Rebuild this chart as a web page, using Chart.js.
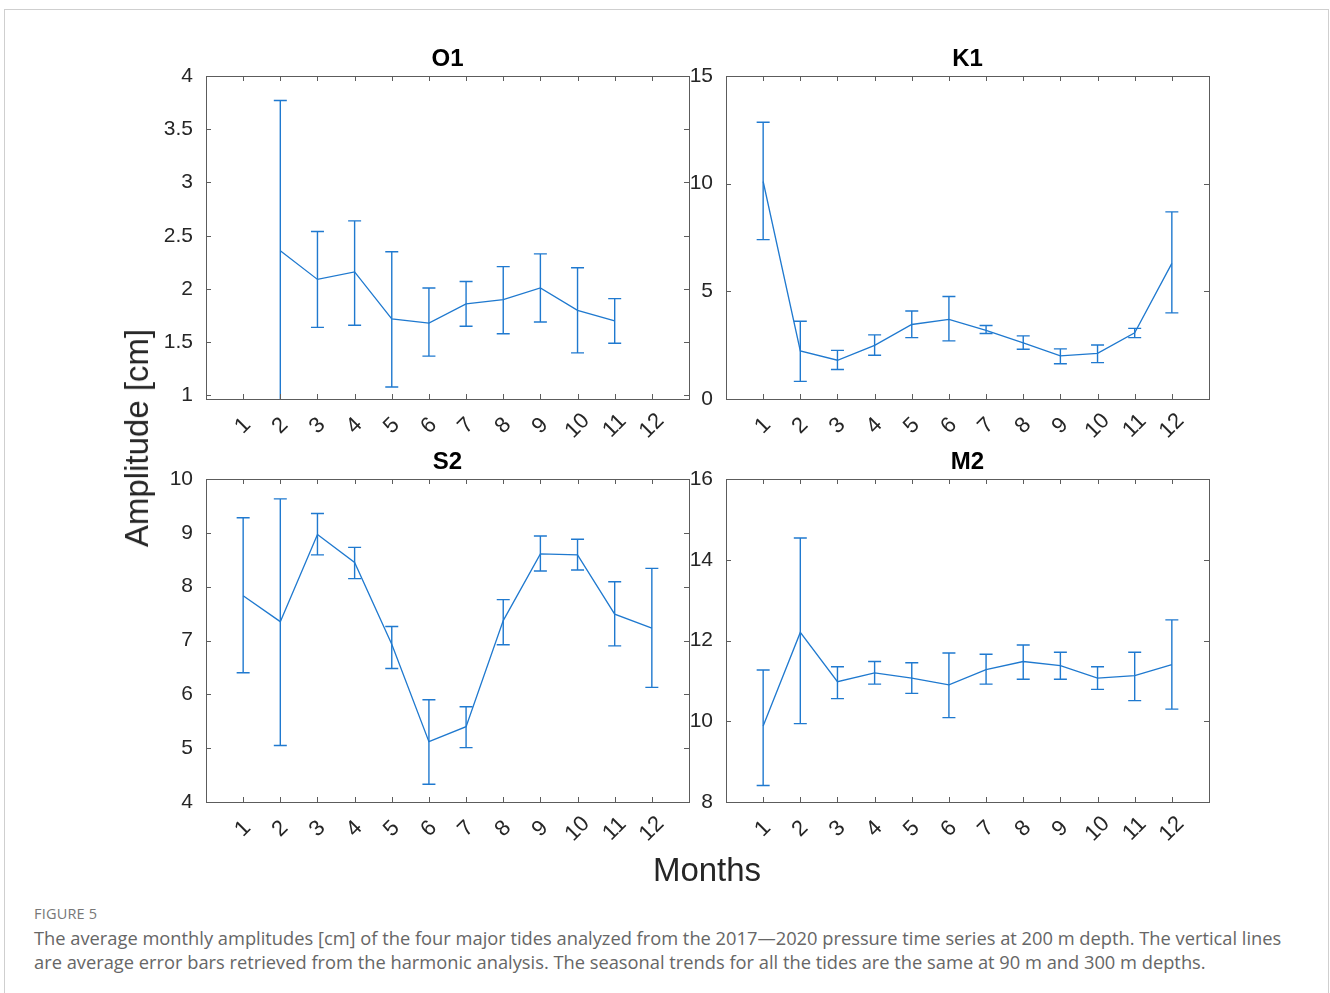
<!DOCTYPE html>
<html>
<head>
<meta charset="utf-8">
<script src="https://cdn.jsdelivr.net/npm/chart.js@4.4.1/dist/chart.umd.min.js"></script>
<style>
  body { margin: 0; width: 1330px; height: 993px; background: #fff; position: relative; overflow: hidden;
         font-family: "Liberation Sans", Arial, sans-serif; }
  .frame { position: absolute; left: 4px; top: 9px; width: 1323px; height: 1010px; border: 1px solid #cfcfcf; }
  canvas { position: absolute; }
  #c-o1 { left: 140px; top: 40px; }
  #c-k1 { left: 660px; top: 40px; }
  #c-s2 { left: 140px; top: 443px; }
  #c-m2 { left: 660px; top: 443px; }
  .ylab { position: absolute; left: 137px; top: 438px; font-size: 33px; color: #262626;
          transform: translate(-50%, -50%) rotate(-90deg); white-space: nowrap; }
  .xlab { position: absolute; left: 707px; top: 870px; font-size: 33px; color: #262626;
          transform: translate(-50%, -50%); white-space: nowrap; }
  .fig { position: absolute; left: 34px; top: 904px; font-family: "Open Sans", sans-serif; font-size: 14.5px;
         color: #777; letter-spacing: 0.2px; }
  .cap { position: absolute; left: 34px; top: 926px; font-family: "Open Sans", sans-serif; font-size: 18.3px;
         line-height: 24px; color: #666; white-space: nowrap; }
</style>
</head>
<body>
<div class="frame"></div>
<canvas id="c-o1" width="560" height="410"></canvas>
<canvas id="c-k1" width="560" height="410"></canvas>
<canvas id="c-s2" width="560" height="410"></canvas>
<canvas id="c-m2" width="560" height="410"></canvas>
<div class="ylab">Amplitude [cm]</div>
<div class="xlab">Months</div>
<div class="fig">FIGURE 5</div>
<div class="cap">The average monthly amplitudes [cm] of the four major tides analyzed from the 2017—2020 pressure time series at 200 m depth. The vertical lines<br>are average error bars retrieved from the harmonic analysis. The seasonal trends for all the tides are the same at 90 m and 300 m depths.</div>
<script>
const months = [1, 2, 3, 4, 5, 6, 7, 8, 9, 10, 11, 12];
const monthLabels = ['1', '2', '3', '4', '5', '6', '7', '8', '9', '10', '11', '12'];

// O1 (no values for Jan and Dec)
const o1Amp  = [null, 2.36, 2.09, 2.16, 1.72, 1.68, 1.86, 1.90, 2.01, 1.80, 1.70, null];
const o1Low  = [null, 0.90, 1.64, 1.66, 1.08, 1.37, 1.65, 1.58, 1.69, 1.40, 1.49, null];
const o1High = [null, 3.77, 2.54, 2.64, 2.35, 2.01, 2.07, 2.21, 2.33, 2.20, 1.91, null];
const o1Ticks = [1, 1.5, 2, 2.5, 3, 3.5, 4];

// K1
const k1Amp  = [10.10, 2.23, 1.80, 2.49, 3.46, 3.70, 3.19, 2.61, 2.00, 2.12, 3.07, 6.30];
const k1Low  = [7.40, 0.82, 1.37, 2.03, 2.85, 2.70, 3.04, 2.31, 1.64, 1.69, 2.85, 4.00];
const k1High = [12.85, 3.61, 2.26, 2.98, 4.09, 4.76, 3.41, 2.93, 2.33, 2.51, 3.28, 8.69];
const k1Ticks = [0, 5, 10, 15];

// S2
const s2Amp  = [7.83, 7.35, 8.97, 8.45, 6.93, 5.12, 5.40, 7.37, 8.61, 8.59, 7.49, 7.23];
const s2Low  = [6.40, 5.05, 8.59, 8.15, 6.48, 4.33, 5.01, 6.92, 8.29, 8.31, 6.90, 6.13];
const s2High = [9.28, 9.63, 9.36, 8.73, 7.26, 5.90, 5.77, 7.76, 8.94, 8.88, 8.09, 8.34];
const s2Ticks = [4, 5, 6, 7, 8, 9, 10];

// M2
const m2Amp  = [9.88, 12.20, 10.98, 11.20, 11.07, 10.90, 11.28, 11.48, 11.38, 11.07, 11.13, 11.40];
const m2Low  = [8.41, 9.94, 10.56, 10.92, 10.69, 10.09, 10.92, 11.04, 11.04, 10.79, 10.51, 10.30];
const m2High = [11.27, 14.54, 11.35, 11.48, 11.45, 11.69, 11.66, 11.89, 11.71, 11.35, 11.71, 12.51];
const m2Ticks = [8, 10, 12, 14, 16];

const LINE = '#1f79cf';
const AXIS = '#5c5c5c';
const TEXT = '#262626';
const FONT = '"Liberation Sans", Arial, sans-serif';

// matlab-ish box, inward ticks, title, rotated month labels and error bars
const matlabAxes = {
    id: 'matlabAxes',
    afterDatasetsDraw(chart, args, opts) {
        const ctx = chart.ctx, a = chart.chartArea;
        const x = chart.scales.x, y = chart.scales.y;

        ctx.save();
        ctx.beginPath();
        ctx.rect(a.left, a.top, a.right - a.left, a.bottom - a.top);
        ctx.clip();
        ctx.strokeStyle = LINE;
        ctx.lineWidth = 1.4;
        opts.low.forEach((lo, i) => {
            if (lo == null) return;
            const px = x.getPixelForValue(months[i]);
            const pl = y.getPixelForValue(lo), ph = y.getPixelForValue(opts.high[i]);
            ctx.beginPath();
            ctx.moveTo(px, pl); ctx.lineTo(px, ph);
            ctx.moveTo(px - 6.5, pl); ctx.lineTo(px + 6.5, pl);
            ctx.moveTo(px - 6.5, ph); ctx.lineTo(px + 6.5, ph);
            ctx.stroke();
        });
        ctx.restore();

        ctx.save();
        ctx.strokeStyle = AXIS;
        ctx.lineWidth = 1;
        ctx.strokeRect(Math.round(a.left) + 0.5, Math.round(a.top) + 0.5,
            Math.round(a.right - a.left), Math.round(a.bottom - a.top));
        ctx.beginPath();
        months.forEach(m => {
            const px = Math.round(x.getPixelForValue(m)) + 0.5;
            ctx.moveTo(px, a.bottom); ctx.lineTo(px, a.bottom - 5);
            ctx.moveTo(px, a.top); ctx.lineTo(px, a.top + 5);
        });
        opts.yTicks.forEach(v => {
            const py = Math.round(y.getPixelForValue(v)) + 0.5;
            ctx.moveTo(a.left, py); ctx.lineTo(a.left + 5, py);
            ctx.moveTo(a.right, py); ctx.lineTo(a.right - 5, py);
        });
        ctx.stroke();

        ctx.fillStyle = TEXT;
        ctx.font = '22px ' + FONT;
        ctx.textAlign = 'center';
        ctx.textBaseline = 'middle';
        months.forEach((m, i) => {
            ctx.save();
            ctx.translate(x.getPixelForValue(m), a.bottom + 27);
            ctx.rotate(-Math.PI / 4);
            ctx.fillText(monthLabels[i], 0, 0);
            ctx.restore();
        });

        ctx.fillStyle = '#000';
        ctx.font = 'bold 24px ' + FONT;
        ctx.fillText(opts.title, (a.left + a.right) / 2, a.top - 17);
        ctx.restore();
    }
};

function makePanel(id, title, amp, low, high, yMin, yMax, yTicks) {
    return new Chart(document.getElementById(id), {
        type: 'line',
        data: {
            datasets: [{
                data: months.map((m, i) => ({ x: m, y: amp[i] })),
                borderColor: LINE,
                borderWidth: 1.3,
                pointRadius: 0,
                tension: 0,
                fill: false
            }]
        },
        options: {
            responsive: false,
            animation: false,
            layout: { padding: { left: 0, right: 11, top: 36, bottom: 0 } },
            plugins: {
                legend: { display: false },
                tooltip: { enabled: false },
                title: { display: false },
                matlabAxes: { title: title, low: low, high: high, yTicks: yTicks }
            },
            scales: {
                x: {
                    type: 'linear',
                    min: 0,
                    max: 13,
                    grid: { display: false },
                    border: { display: false },
                    ticks: { display: false },
                    afterBuildTicks: s => { s.ticks = months.map(v => ({ value: v })); },
                    afterFit: s => { s.height = 51; }
                },
                y: {
                    min: yMin,
                    max: yMax,
                    grid: { display: false, drawTicks: false },
                    border: { display: false },
                    ticks: {
                        color: TEXT,
                        font: { family: FONT, size: 21 },
                        padding: 13,
                        callback: v => String(v)
                    },
                    afterBuildTicks: s => { s.ticks = yTicks.map(v => ({ value: v })); },
                    afterFit: s => { s.width = 66; }
                }
            }
        },
        plugins: [matlabAxes]
    });
}

makePanel('c-o1', 'O1', o1Amp, o1Low, o1High, 0.967, 4, o1Ticks);
makePanel('c-k1', 'K1', k1Amp, k1Low, k1High, 0, 15, k1Ticks);
makePanel('c-s2', 'S2', s2Amp, s2Low, s2High, 4, 10, s2Ticks);
makePanel('c-m2', 'M2', m2Amp, m2Low, m2High, 8, 16, m2Ticks);
</script>
</body>
</html>
